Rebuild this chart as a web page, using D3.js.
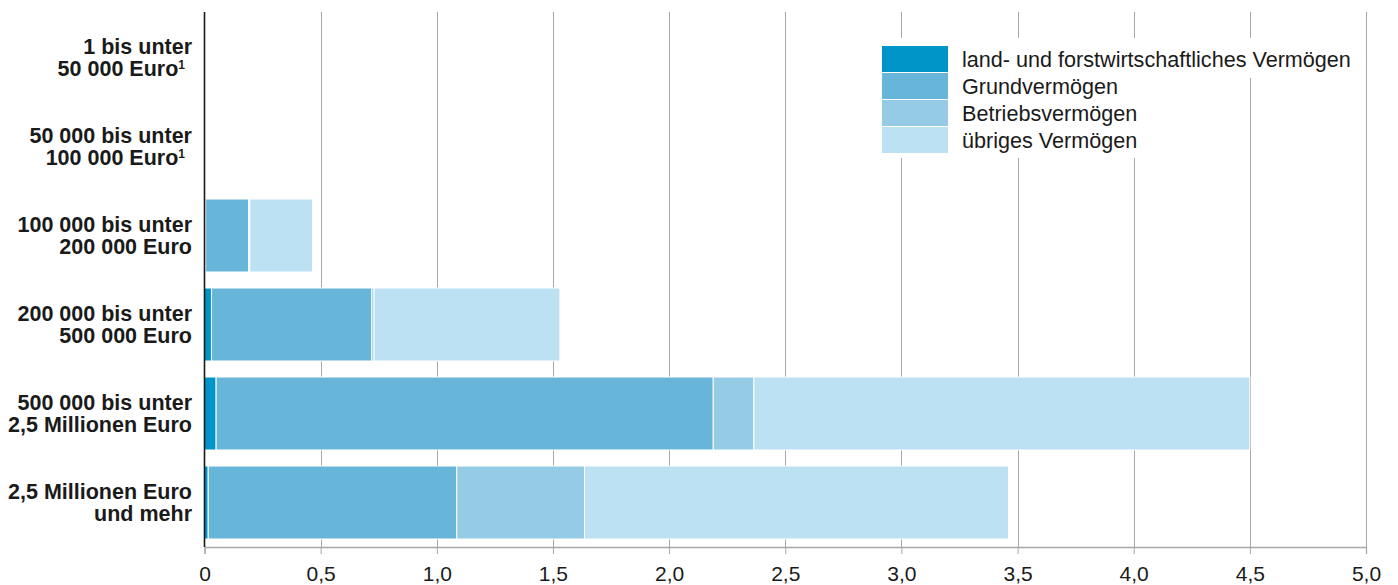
<!DOCTYPE html>
<html>
<head>
<meta charset="utf-8">
<script src="https://cdn.jsdelivr.net/npm/d3@7"></script>
<style>
  html, body { margin: 0; padding: 0; background: #fff; }
  svg { display: block; font-family: "Liberation Sans", Arial, Helvetica, sans-serif; }
</style>
</head>
<body>
<div id="chart"></div>
<script>
// Categories (two lines each, sup = footnote marker)
const categories = [
  { lines: ['1 bis unter', '50 000 Euro'], sup: '1' },
  { lines: ['50 000 bis unter', '100 000 Euro'], sup: '1' },
  { lines: ['100 000 bis unter', '200 000 Euro'], sup: '' },
  { lines: ['200 000 bis unter', '500 000 Euro'], sup: '' },
  { lines: ['500 000 bis unter', '2,5 Millionen Euro'], sup: '' },
  { lines: ['2,5 Millionen Euro', 'und mehr'], sup: '' }
];

const seriesNames = [
  'land- und forstwirtschaftliches Vermögen',
  'Grundvermögen',
  'Betriebsvermögen',
  'übriges Vermögen'
];
const seriesColors = ['#0095c8', '#67b5d8', '#96cbe6', '#bce1f3'];

// values per series, one per category
const landForst   = [0, 0, 0.005, 0.03, 0.05, 0.016];
const grund       = [0, 0, 0.185, 0.69, 2.14, 1.07];
const betrieb     = [0, 0, 0.005, 0.01, 0.175, 0.55];
const uebriges    = [0, 0, 0.27, 0.80, 2.135, 1.825];

const xTicks = [0, 0.5, 1, 1.5, 2, 2.5, 3, 3.5, 4, 4.5, 5];

const width = 1398, height = 585;
const margin = { top: 13, right: 32, bottom: 38, left: 204.5 };

const svg = d3.select('#chart').append('svg')
  .attr('width', width)
  .attr('height', height);

const x = d3.scaleLinear()
  .domain([0, 5])
  .range([margin.left, width - margin.right]);

const y = d3.scaleBand()
  .domain(categories.map((d, i) => i))
  .range([margin.top, height - margin.bottom])
  .paddingInner(0.18)
  .paddingOuter(0.09);

const plotBottom = height - margin.bottom;

// gridlines
svg.append('g')
  .selectAll('line')
  .data(xTicks.slice(1))
  .join('line')
  .attr('x1', d => Math.round(x(d)) + 0.5)
  .attr('x2', d => Math.round(x(d)) + 0.5)
  .attr('y1', margin.top - 1)
  .attr('y2', plotBottom)
  .attr('stroke', '#a8a8a8')
  .attr('stroke-width', 1);

// stacked data
const rows = categories.map((c, i) => ({
  idx: i,
  landForst: landForst[i],
  grund: grund[i],
  betrieb: betrieb[i],
  uebriges: uebriges[i]
}));
const keys = ['landForst', 'grund', 'betrieb', 'uebriges'];
const stacked = d3.stack().keys(keys)(rows);

// legend background (white blocks covering gridlines)
const legendX = 882, legendY = 46, boxW = 66, boxH = 26, rowStep = 27;

svg.append('rect')
  .attr('x', legendX - 8).attr('y', legendY - 8)
  .attr('width', 1240 - legendX).attr('height', rowStep * 4 + 12)
  .attr('fill', '#fff');
svg.append('rect')
  .attr('x', legendX - 8).attr('y', legendY - 8)
  .attr('width', 1358 - legendX).attr('height', 40)
  .attr('fill', '#fff');

// bars
svg.append('g')
  .selectAll('g')
  .data(stacked)
  .join('g')
  .attr('fill', (d, i) => seriesColors[i])
  .selectAll('rect')
  .data(d => d.filter(s => s[1] - s[0] > 0))
  .join('rect')
  .attr('x', d => x(d[0]))
  .attr('y', d => y(d.data.idx))
  .attr('width', d => Math.max(0, x(d[1]) - x(d[0])))
  .attr('height', y.bandwidth())
  .attr('stroke', '#fff')
  .attr('stroke-width', 1);

// x axis
const xAxis = d3.axisBottom(x)
  .tickValues(xTicks)
  .tickSize(7)
  .tickFormat(d => d === 0 ? '0' : d3.format('.1f')(d).replace('.', ','));

const gx = svg.append('g')
  .attr('transform', `translate(0,${plotBottom})`)
  .call(xAxis);
gx.select('.domain').attr('stroke', '#a8a8a8').attr('stroke-width', 1.3);
gx.selectAll('.tick line').attr('stroke', '#a8a8a8');
gx.selectAll('.tick text')
  .attr('fill', '#1a1a1a')
  .attr('font-size', 21)
  .attr('font-family', '"Liberation Sans", Arial, sans-serif')
  .attr('y', 19);

// y axis line
svg.append('line')
  .attr('x1', margin.left).attr('x2', margin.left)
  .attr('y1', margin.top - 1).attr('y2', plotBottom)
  .attr('stroke', '#1a1a1a')
  .attr('stroke-width', 1.6);

// category labels
const labels = svg.append('g')
  .selectAll('text')
  .data(categories)
  .join('text')
  .attr('text-anchor', 'end')
  .attr('font-size', 21.5)
  .attr('font-weight', 'bold')
  .attr('fill', '#1a1a1a');

labels.each(function(d, i) {
  const cy = y(i) + y.bandwidth() / 2;
  const t = d3.select(this);
  d.lines.forEach((line, j) => {
    const last = j === d.lines.length - 1;
    t.append('tspan')
      .attr('x', d.sup && last ? 185 : 192)
      .attr('y', cy + (j === 0 ? -11 : 11))
      .attr('dy', '0.35em')
      .text(line);
    if (d.sup && last) {
      t.append('tspan')
        .attr('font-size', 12)
        .attr('dy', '-0.6em')
        .text(d.sup);
    }
  });
});

// legend
const legend = svg.append('g')
  .selectAll('g')
  .data(seriesNames)
  .join('g')
  .attr('transform', (d, i) => `translate(${legendX},${legendY + i * rowStep})`);

legend.append('rect')
  .attr('width', boxW)
  .attr('height', boxH)
  .attr('fill', (d, i) => seriesColors[i]);

legend.append('text')
  .attr('x', boxW + 14)
  .attr('y', boxH / 2)
  .attr('dy', '0.35em')
  .attr('font-size', 21.6)
  .attr('fill', '#1a1a1a')
  .text(d => d);
</script>
</body>
</html>
